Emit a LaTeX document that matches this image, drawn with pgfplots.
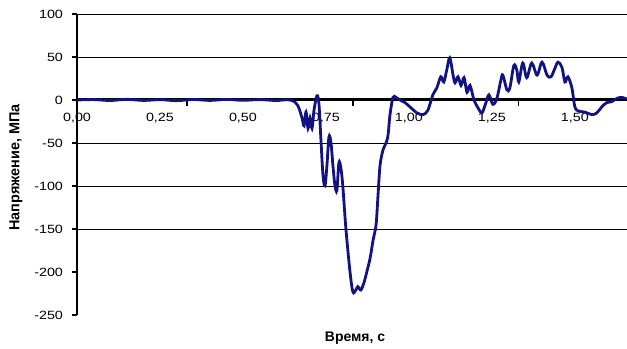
\documentclass[border=0pt]{standalone}
\usepackage{fontspec}
\setmainfont{Liberation Sans}
\usepackage{pgfplots}
\pgfplotsset{compat=1.18}
\definecolor{curve}{RGB}{18,18,128}

% stress signal: time (s), stress (MPa)
\pgfplotstableread{
t      s
0.000  0
0.050  0.5
0.100  -0.6
0.150  0.8
0.200  -0.5
0.250  0.4
0.300  -0.8
0.350  0.6
0.400  -0.5
0.450  0.7
0.500  -0.4
0.550  0.5
0.600  -0.6
0.630  0.3
0.651  -1
0.666  -7
0.678  -21
0.684  -30
0.690  -14
0.696  -33
0.702  -21
0.708  -33
0.714  -12
0.723  5
0.729  -5
0.735  -47
0.741  -87
0.747  -100
0.753  -76
0.759  -43
0.765  -49
0.771  -76
0.777  -99
0.783  -105
0.789  -73
0.795  -79
0.801  -101
0.810  -149
0.822  -198
0.831  -223
0.840  -221
0.846  -217
0.855  -221
0.864  -213
0.873  -200
0.883  -184
0.892  -163
0.901  -145
0.907  -110
0.913  -76
0.922  -58
0.931  -50
0.937  -41
0.943  -17
0.952  3
0.961  3
0.973  0
0.988  -3
1.003  -8
1.024  -15
1.042  -17
1.057  -12
1.072  6
1.084  14
1.096  27
1.105  21
1.114  35
1.123  49
1.133  29
1.139  20
1.148  27
1.157  17
1.166  26
1.175  9
1.184  17
1.196  0
1.208  -9
1.220  -15
1.232  -3
1.241  6
1.253  -5
1.265  2
1.277  23
1.283  29
1.295  12
1.304  14
1.316  40
1.325  35
1.331  21
1.343  43
1.355  26
1.370  43
1.386  29
1.401  44
1.416  29
1.428  27
1.440  37
1.449  44
1.461  38
1.470  21
1.479  27
1.491  14
1.500  -8
1.512  -13
1.530  -14
1.551  -17
1.566  -15
1.581  -8
1.596  -3
1.611  -2
1.627  2
1.642  3
1.657  1
}\stress

\begin{document}
\begin{tikzpicture}
\begin{axis}[
  name=ax,
  scale only axis,
  width=550bp, height=301bp,
  xmin=0, xmax=1.657,
  ymin=-250, ymax=100,
  axis x line=middle,
  axis y line=left,
  axis line style={-, black, line width=2.4bp},
  x axis line style={line width=3bp},
  hide obscured x ticks=false,
  hide obscured y ticks=false,
  clip=false,
  xtick={0,0.25,0.5,0.75,1,1.25,1.5},
  xticklabels={{0,00},{0,25},{0,50},{0,75},{1,00},{1,25},{1,50}},
  xtick style={draw=none},
  xticklabel style={font=\fontsize{12}{14}\selectfont, xscale=1.2, anchor=north, yshift=-5bp},
  ytick={-250,-200,-150,-100,-50,0,50,100},
  yticklabels={-250,-200,-150,-100,-50,0,50,100},
  yticklabel style={font=\fontsize{12}{14}\selectfont, xscale=1.2, xshift=-4bp},
  ytick style={draw=black, line width=1.4bp},
  tick align=outside,
  major tick length=5bp,
  every axis y label/.style={at={(axis description cs:-0.111,0.49)}, anchor=center, rotate=90},
  every axis x label/.style={at={(axis description cs:0.5,0)}, anchor=center, yshift=-23bp, xshift=3bp},
  ylabel={\fontsize{14.5}{16}\selectfont\bfseries Напряжение, МПа},
  xlabel={\fontsize{14}{16}\selectfont\bfseries Время, с},
]
% horizontal grid lines
\foreach \g in {-150,-100,-50,50,100} {
  \edef\tmp{\noexpand\draw[black, line width=0.9bp] (axis cs:0,\g) -- (axis cs:1.657,\g);}
  \tmp
}
% small tick marks on the time axis
\foreach \t in {0.331,0.831,1.331} {
  \edef\tmp{\noexpand\draw[black, line width=1.4bp] (axis cs:\t,0) -- ([yshift=-6bp]axis cs:\t,0);}
  \tmp
}
\addplot[curve, line width=2.8bp, smooth, tension=0.55] table[x=t, y=s] {\stress};
\end{axis}
\pgfresetboundingbox
\path[use as bounding box] ([xshift=-77bp, yshift=-34bp]ax.south west) rectangle ([yshift=14bp]ax.north east);
\end{tikzpicture}
\end{document}
